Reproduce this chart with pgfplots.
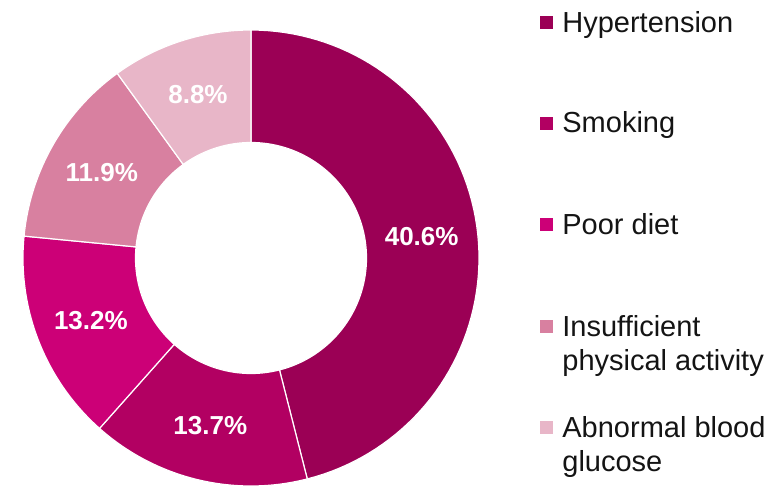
\documentclass[border=0pt]{standalone}
\usepackage{fontspec}
\setmainfont{Liberation Sans}
\usepackage{pgfplots}
\pgfplotsset{compat=1.18}

\definecolor{cHyp}{RGB}{155,0,85}
\definecolor{cSmk}{RGB}{178,0,98}
\definecolor{cDiet}{RGB}{204,0,119}
\definecolor{cAct}{RGB}{216,128,160}
\definecolor{cGlu}{RGB}{232,182,200}
\definecolor{txt}{RGB}{20,20,20}

% shares (percent), drawn relative to their sum
\def\vA{40.6}\def\vB{13.7}\def\vC{13.2}\def\vD{11.9}\def\vE{8.8}
\pgfmathsetmacro\tot{\vA+\vB+\vC+\vD+\vE}
\pgfmathsetmacro\angO{90}
\pgfmathsetmacro\angA{\angO-\vA/\tot*360}
\pgfmathsetmacro\angB{\angA-\vB/\tot*360}
\pgfmathsetmacro\angC{\angB-\vC/\tot*360}
\pgfmathsetmacro\angD{\angC-\vD/\tot*360}
\pgfmathsetmacro\angE{\angD-\vE/\tot*360}
\pgfmathsetmacro\midA{(\angO+\angA)/2}
\pgfmathsetmacro\midB{(\angA+\angB)/2}
\pgfmathsetmacro\midC{(\angB+\angC)/2}
\pgfmathsetmacro\midD{(\angC+\angD)/2}
\pgfmathsetmacro\midE{(\angD+\angE)/2}

% geometry in pixel units
\def\cx{251}\def\cy{228}\def\Ro{228}\def\Ri{115.5}\def\Rm{172}

\newcommand\donutslice[3]{%
  \fill[#1, draw=white, line width=0.6pt]
    plot[domain=#2:#3, samples=80, variable=\t] ({\cx+\Ro*cos(\t)},{\cy+\Ro*sin(\t)})
    -- plot[domain=#3:#2, samples=80, variable=\t] ({\cx+\Ri*cos(\t)},{\cy+\Ri*sin(\t)})
    -- cycle;}
\newcommand\slicelabel[2]{%
  \node[text=white, font=\bfseries\fontsize{13}{15}\selectfont]
    at (axis cs:{\cx+\Rm*cos(#1)},{\cy+\Rm*sin(#1)}) {#2};}
\newcommand\legsq[2]{%
  \fill[#1] (axis cs:540,{486-#2-6.5}) rectangle (axis cs:553,{486-#2+6.5});}
\newcommand\legtxt[2]{%
  \node[anchor=base west, inner sep=0pt, text=txt, font=\fontsize{14.5}{17}\selectfont]
    at (axis cs:562,{486-#1}) {#2};}

\begin{document}
\begin{tikzpicture}
\begin{axis}[
    at={(0,0)}, anchor=south west,
    width=391pt, height=243pt, scale only axis,
    xmin=0, xmax=782, ymin=0, ymax=486,
    hide axis, clip=false,
]
\path (axis cs:0,0) rectangle (axis cs:782,486);

\donutslice{cHyp}{\angO}{\angA}
\donutslice{cSmk}{\angA}{\angB}
\donutslice{cDiet}{\angB}{\angC}
\donutslice{cAct}{\angC}{\angD}
\donutslice{cGlu}{\angD}{\angE}

\slicelabel{\midA}{40.6\%}
\slicelabel{\midB}{13.7\%}
\slicelabel{\midC}{13.2\%}
\slicelabel{\midD}{11.9\%}
\slicelabel{\midE}{8.8\%}

\legsq{cHyp}{23}   \legtxt{32.5}{Hypertension}
\legsq{cSmk}{124}  \legtxt{133}{Smoking}
\legsq{cDiet}{225} \legtxt{235}{Poor diet}
\legsq{cAct}{326.5}\legtxt{336}{Insufficient}
                   \legtxt{370}{physical activity}
\legsq{cGlu}{427}  \legtxt{437}{Abnormal blood}
                   \legtxt{471}{glucose}
\end{axis}
\end{tikzpicture}
\end{document}
